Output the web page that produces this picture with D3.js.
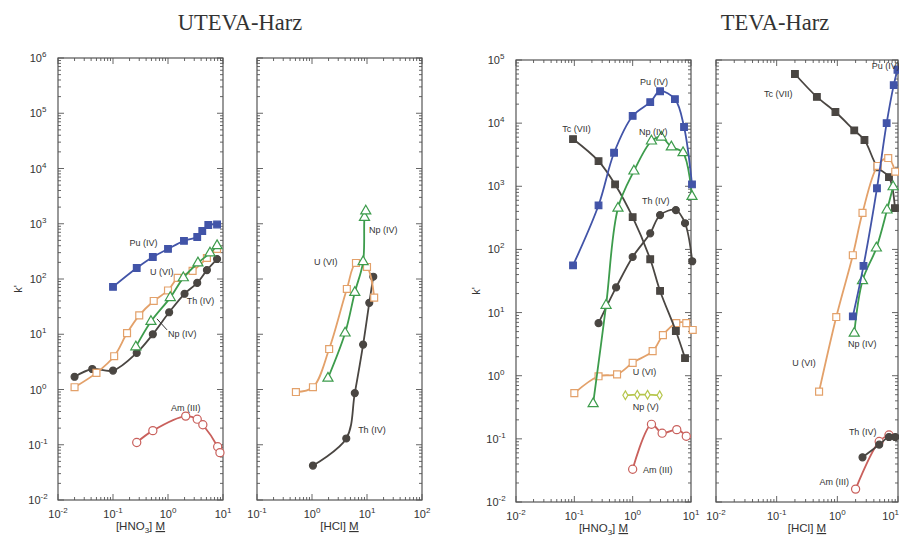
<!DOCTYPE html>
<html>
<head>
<meta charset="utf-8">
<script src="https://cdn.jsdelivr.net/npm/d3@7/dist/d3.min.js"></script>
<style>
  body { margin: 0; background: #fff; }
  text { font-family: "Liberation Sans", Arial, sans-serif; fill: #333; }
</style>
</head>
<body>
<svg id="chart" width="899" height="538"></svg>
<script>
// UTEVA, HNO3: [concentration M, k']
const uHno3Pu = [[0.1, 72], [0.27, 158], [0.53, 250], [1.0, 350], [1.95, 490], [3.4, 575], [4.2, 740], [5.4, 950], [7.8, 970]];
const uHno3U = [[0.02, 1.1], [0.05, 2.0], [0.105, 4.0], [0.18, 10.5], [0.3, 22], [0.55, 40], [1.0, 62], [1.5, 105], [2.8, 140], [5.1, 240], [7.8, 350]];
const uHno3Np = [[0.26, 5.9], [0.49, 17], [1.1, 46], [1.9, 105], [3.5, 195], [5.8, 295], [7.8, 400]];
const uHno3Th = [[0.02, 1.7], [0.042, 2.35], [0.1, 2.2], [0.27, 4.6], [0.53, 10], [1.05, 25], [2.0, 54], [3.4, 85], [5.1, 145], [7.8, 230]];
const uHno3Am = [[0.27, 0.11], [0.53, 0.18], [2.1, 0.33], [3.4, 0.29], [4.3, 0.23], [8.0, 0.092], [8.8, 0.072]];

// UTEVA, HCl
const uHclU = [[0.51, 0.9], [1.04, 1.1], [2.05, 5.4], [4.3, 66], [6.3, 195], [10, 165], [13.5, 46]];
const uHclNp = [[1.95, 1.6], [4.0, 10.5], [6.0, 57], [8.5, 205], [9.0, 1300], [9.5, 1700]];
const uHclTh = [[1.04, 0.042], [4.2, 0.13], [6.0, 0.86], [8.5, 6.5], [11, 37], [13, 110]];

// TEVA, HNO3
const tHno3Pu = [[0.095, 56], [0.26, 500], [0.48, 3400], [1.0, 13000], [2.0, 21500], [2.95, 32000], [5.3, 24000], [7.6, 8700], [10.4, 1070]];
const tHno3Tc = [[0.095, 5600], [0.26, 2500], [0.5, 1070], [1.0, 325], [2.0, 70], [2.95, 22], [5.5, 5.1], [7.9, 1.9]];
const tHno3Np4 = [[0.21, 0.36], [0.35, 13], [0.56, 450], [1.05, 1740], [2.1, 5200], [3.1, 6000], [4.6, 4200], [7.3, 3400], [10.4, 690]];
const tHno3Th = [[0.26, 6.8], [0.52, 25], [1.0, 76], [2.0, 180], [2.95, 350], [5.5, 420], [7.9, 260], [10.5, 65]];
const tHno3U = [[0.1, 0.53], [0.26, 0.98], [0.54, 1.05], [1.0, 1.6], [2.2, 2.45], [3.3, 4.4], [5.6, 6.8], [8.3, 6.8], [10.7, 5.3]];
const tHno3Np5 = [[0.75, 0.49], [1.2, 0.5], [1.8, 0.5], [2.9, 0.49]];
const tHno3Am = [[1.0, 0.033], [2.1, 0.17], [3.2, 0.123], [5.7, 0.14], [8.3, 0.11]];

// TEVA, HCl
const tHclTc = [[0.2, 60000], [0.46, 26000], [0.93, 15000], [1.9, 7700], [2.8, 5400], [4.6, 2000], [7.1, 1400], [8.9, 450]];
const tHclPu = [[1.8, 8.7], [2.7, 55], [4.5, 930], [6.5, 10000], [8.5, 40000], [9.8, 70000]];
const tHclU = [[0.5, 0.56], [0.96, 8.5], [1.8, 81], [2.6, 380], [4.6, 2100], [6.9, 2800], [9.0, 1700]];
const tHclNp = [[1.9, 4.7], [2.6, 32], [4.4, 105], [6.6, 420], [8.3, 980]];
const tHclTh = [[2.6, 0.051], [4.9, 0.081], [7.1, 0.107], [9.0, 0.107]];
const tHclAm = [[2.0, 0.016], [4.9, 0.091], [7.1, 0.115]];

// curve labels: [text, concentration, k'] at the label's left end
const uHno3Labels = [['Pu (IV)', 0.2, 450], ['U (VI)', 0.47, 135], ['Th (IV)', 2.2, 40], ['Np (IV)', 1.0, 10.5], ['Am (III)', 1.13, 0.47]];
const uHclLabels = [['Np (IV)', 10.9, 800], ['U (VI)', 1.09, 205], ['Th (IV)', 6.9, 0.19]];
const tHno3Labels = [['Pu (IV)', 1.34, 46000], ['Tc (VII)', 0.062, 8300], ['Np (IV)', 1.29, 7500], ['Th (IV)', 1.45, 590], ['U (VI)', 1.0, 1.17], ['Np (V)', 1.0, 0.32], ['Am (III)', 1.5, 0.033]];
const tHclLabels = [['Tc (VII)', 0.062, 29000], ['Pu (IV)', 3.7, 83000], ['Np (IV)', 1.5, 3.2], ['U (VI)', 0.18, 1.6], ['Th (IV)', 1.55, 0.13], ['Am (III)', 0.51, 0.021]];

const svg = d3.select('#chart');

const BLUE = '#4254a8', GREEN = '#3d9c4c', ORANGE = '#e3a16a', DARK = '#4a4642', RED = '#c9605c', LIME = '#b6c64c';

const style = {
  Pu: {color: BLUE, shape: d3.symbolSquare, fill: true, size: 44},
  U: {color: ORANGE, shape: d3.symbolSquare, fill: false, size: 48},
  Np: {color: GREEN, shape: d3.symbolTriangle, fill: false, size: 44},
  Th: {color: DARK, shape: d3.symbolCircle, fill: true, size: 38},
  Tc: {color: DARK, shape: d3.symbolSquare, fill: true, size: 44},
  Am: {color: RED, shape: d3.symbolCircle, fill: false, size: 52},
  Np5: {color: LIME, shape: d3.symbolDiamond, fill: false, size: 22}
};

function supText(sel, e) {
  sel.append('tspan').text('10');
  sel.append('tspan').attr('dy', -5).attr('font-size', 8).text(e);
}

function makePanel(box, xDomain, yDomain, yLabels, xTitle) {
  const x = d3.scaleLog().domain(xDomain).range([box.x0, box.x1]);
  const y = d3.scaleLog().domain(yDomain).range([box.y0, box.y1]);
  const g = svg.append('g');

  g.append('rect')
    .attr('x', box.x0).attr('y', box.y1)
    .attr('width', box.x1 - box.x0).attr('height', box.y0 - box.y1)
    .attr('fill', 'none').attr('stroke', '#555').attr('stroke-width', 1.2);

  const ticks = (lo, hi) => {
    const out = [];
    for (let d = Math.log10(lo); d <= Math.log10(hi); d++) {
      for (let k = 1; k < 10; k++) {
        const v = k * Math.pow(10, d);
        if (v > hi * 1.0001) break;
        out.push({v: v, major: k == 1});
      }
    }
    return out;
  };

  const tk = g.append('g').attr('stroke', '#555').attr('stroke-width', 0.9);
  for (const t of ticks(xDomain[0], xDomain[1])) {
    const px = x(t.v), len = t.major ? 6 : 3;
    tk.append('line').attr('x1', px).attr('x2', px).attr('y1', box.y0).attr('y2', box.y0 - len);
    tk.append('line').attr('x1', px).attr('x2', px).attr('y1', box.y1).attr('y2', box.y1 + len);
    if (t.major) {
      // the last label of the right panel sits at the picture's edge
      const edge = px + 10 > 899;
      g.append('text').attr('x', edge ? 899 : px).attr('y', box.y0 + 18)
        .attr('text-anchor', edge ? 'end' : 'middle').attr('font-size', 11)
        .call(supText, Math.round(Math.log10(t.v)));
    }
  }
  for (const t of ticks(yDomain[0], yDomain[1])) {
    const py = y(t.v), len = t.major ? 6 : 3;
    tk.append('line').attr('x1', box.x0).attr('x2', box.x0 + len).attr('y1', py).attr('y2', py);
    tk.append('line').attr('x1', box.x1).attr('x2', box.x1 - len).attr('y1', py).attr('y2', py);
    if (t.major && yLabels) {
      g.append('text').attr('x', box.x0 - 20).attr('y', py + 4)
        .attr('text-anchor', 'middle').attr('font-size', 11)
        .call(supText, Math.round(Math.log10(t.v)));
    }
  }

  const xt = g.append('text')
    .attr('x', (box.x0 + box.x1) / 2).attr('y', box.y0 + 30)
    .attr('text-anchor', 'middle').attr('font-size', 11.5);
  xt.append('tspan').text('[' + xTitle);
  if (xTitle == 'HNO') {
    xt.append('tspan').attr('font-size', 8).attr('dy', 3).text('3');
    xt.append('tspan').attr('dy', -3).text(']\u00a0');
  } else {
    xt.append('tspan').text(']\u00a0');
  }
  xt.append('tspan').attr('text-decoration', 'underline').text('M');

  if (yLabels) {
    g.append('text')
      .attr('transform', `translate(${box.x0 - 36},${(box.y0 + box.y1) / 2 + 10}) rotate(-90)`)
      .attr('text-anchor', 'middle').attr('font-size', 11).text("k'");
  }

  return {x, y, g};
}

function drawSeries(p, data, kind) {
  const s = style[kind];
  const line = d3.line()
    .x(d => p.x(d[0])).y(d => p.y(d[1]))
    .curve(d3.curveCatmullRom.alpha(0.5));
  p.g.append('path').datum(data)
    .attr('d', line).attr('fill', 'none')
    .attr('stroke', s.color).attr('stroke-width', 1.8);
  p.g.append('g').selectAll('path').data(data).join('path')
    .attr('transform', d => `translate(${p.x(d[0])},${p.y(d[1])})`)
    .attr('d', d3.symbol().type(s.shape).size(s.size))
    .attr('fill', s.fill ? s.color : '#fff')
    .attr('stroke', s.color).attr('stroke-width', 1.2);
}

function drawLabels(p, labels) {
  p.g.append('g').selectAll('text').data(labels).join('text')
    .attr('x', d => p.x(d[1])).attr('y', d => p.y(d[2]) + 3.5)
    .attr('font-size', 9).attr('fill', '#3a3a3a')
    .text(d => d[0]);
}

// UTEVA, HNO3
const p1 = makePanel({x0: 58, x1: 223, y0: 500, y1: 58}, [0.01, 10], [0.01, 1e6], true, 'HNO');
drawSeries(p1, uHno3Am, 'Am');
drawSeries(p1, uHno3Th, 'Th');
drawSeries(p1, uHno3U, 'U');
drawSeries(p1, uHno3Np, 'Np');
drawSeries(p1, uHno3Pu, 'Pu');
drawLabels(p1, uHno3Labels);
p1.g.append('line')
  .attr('x1', p1.x(0.63)).attr('y1', p1.y(19))
  .attr('x2', p1.x(0.96)).attr('y2', p1.y(12))
  .attr('stroke', '#333').attr('stroke-width', 1);

// UTEVA, HCl
const p2 = makePanel({x0: 257, x1: 422, y0: 500, y1: 58}, [0.1, 100], [0.01, 1e6], false, 'HCl');
drawSeries(p2, uHclTh, 'Th');
drawSeries(p2, uHclU, 'U');
drawSeries(p2, uHclNp, 'Np');
drawLabels(p2, uHclLabels);

// TEVA, HNO3
const p3 = makePanel({x0: 516, x1: 691, y0: 502, y1: 60}, [0.01, 10], [0.01, 1e5], true, 'HNO');
drawSeries(p3, tHno3Am, 'Am');
drawSeries(p3, tHno3Np5, 'Np5');
drawSeries(p3, tHno3U, 'U');
drawSeries(p3, tHno3Th, 'Th');
drawSeries(p3, tHno3Tc, 'Tc');
drawSeries(p3, tHno3Np4, 'Np');
drawSeries(p3, tHno3Pu, 'Pu');
drawLabels(p3, tHno3Labels);

// TEVA, HCl
const p4 = makePanel({x0: 716, x1: 898, y0: 502, y1: 60}, [0.01, 10], [0.01, 1e5], false, 'HCl');
drawSeries(p4, tHclAm, 'Am');
drawSeries(p4, tHclTh, 'Th');
drawSeries(p4, tHclTc, 'Tc');
drawSeries(p4, tHclU, 'U');
drawSeries(p4, tHclNp, 'Np');
drawSeries(p4, tHclPu, 'Pu');
drawLabels(p4, tHclLabels);

// titles
svg.append('text').attr('x', 240).attr('y', 30).attr('text-anchor', 'middle')
  .style('font-family', '"Liberation Serif", "Times New Roman", serif')
  .attr('font-size', 22.5).attr('fill', '#111').text('UTEVA-Harz');
svg.append('text').attr('x', 775).attr('y', 30).attr('text-anchor', 'middle')
  .style('font-family', '"Liberation Serif", "Times New Roman", serif')
  .attr('font-size', 22.5).attr('fill', '#111').text('TEVA-Harz');
</script>
</body>
</html>
